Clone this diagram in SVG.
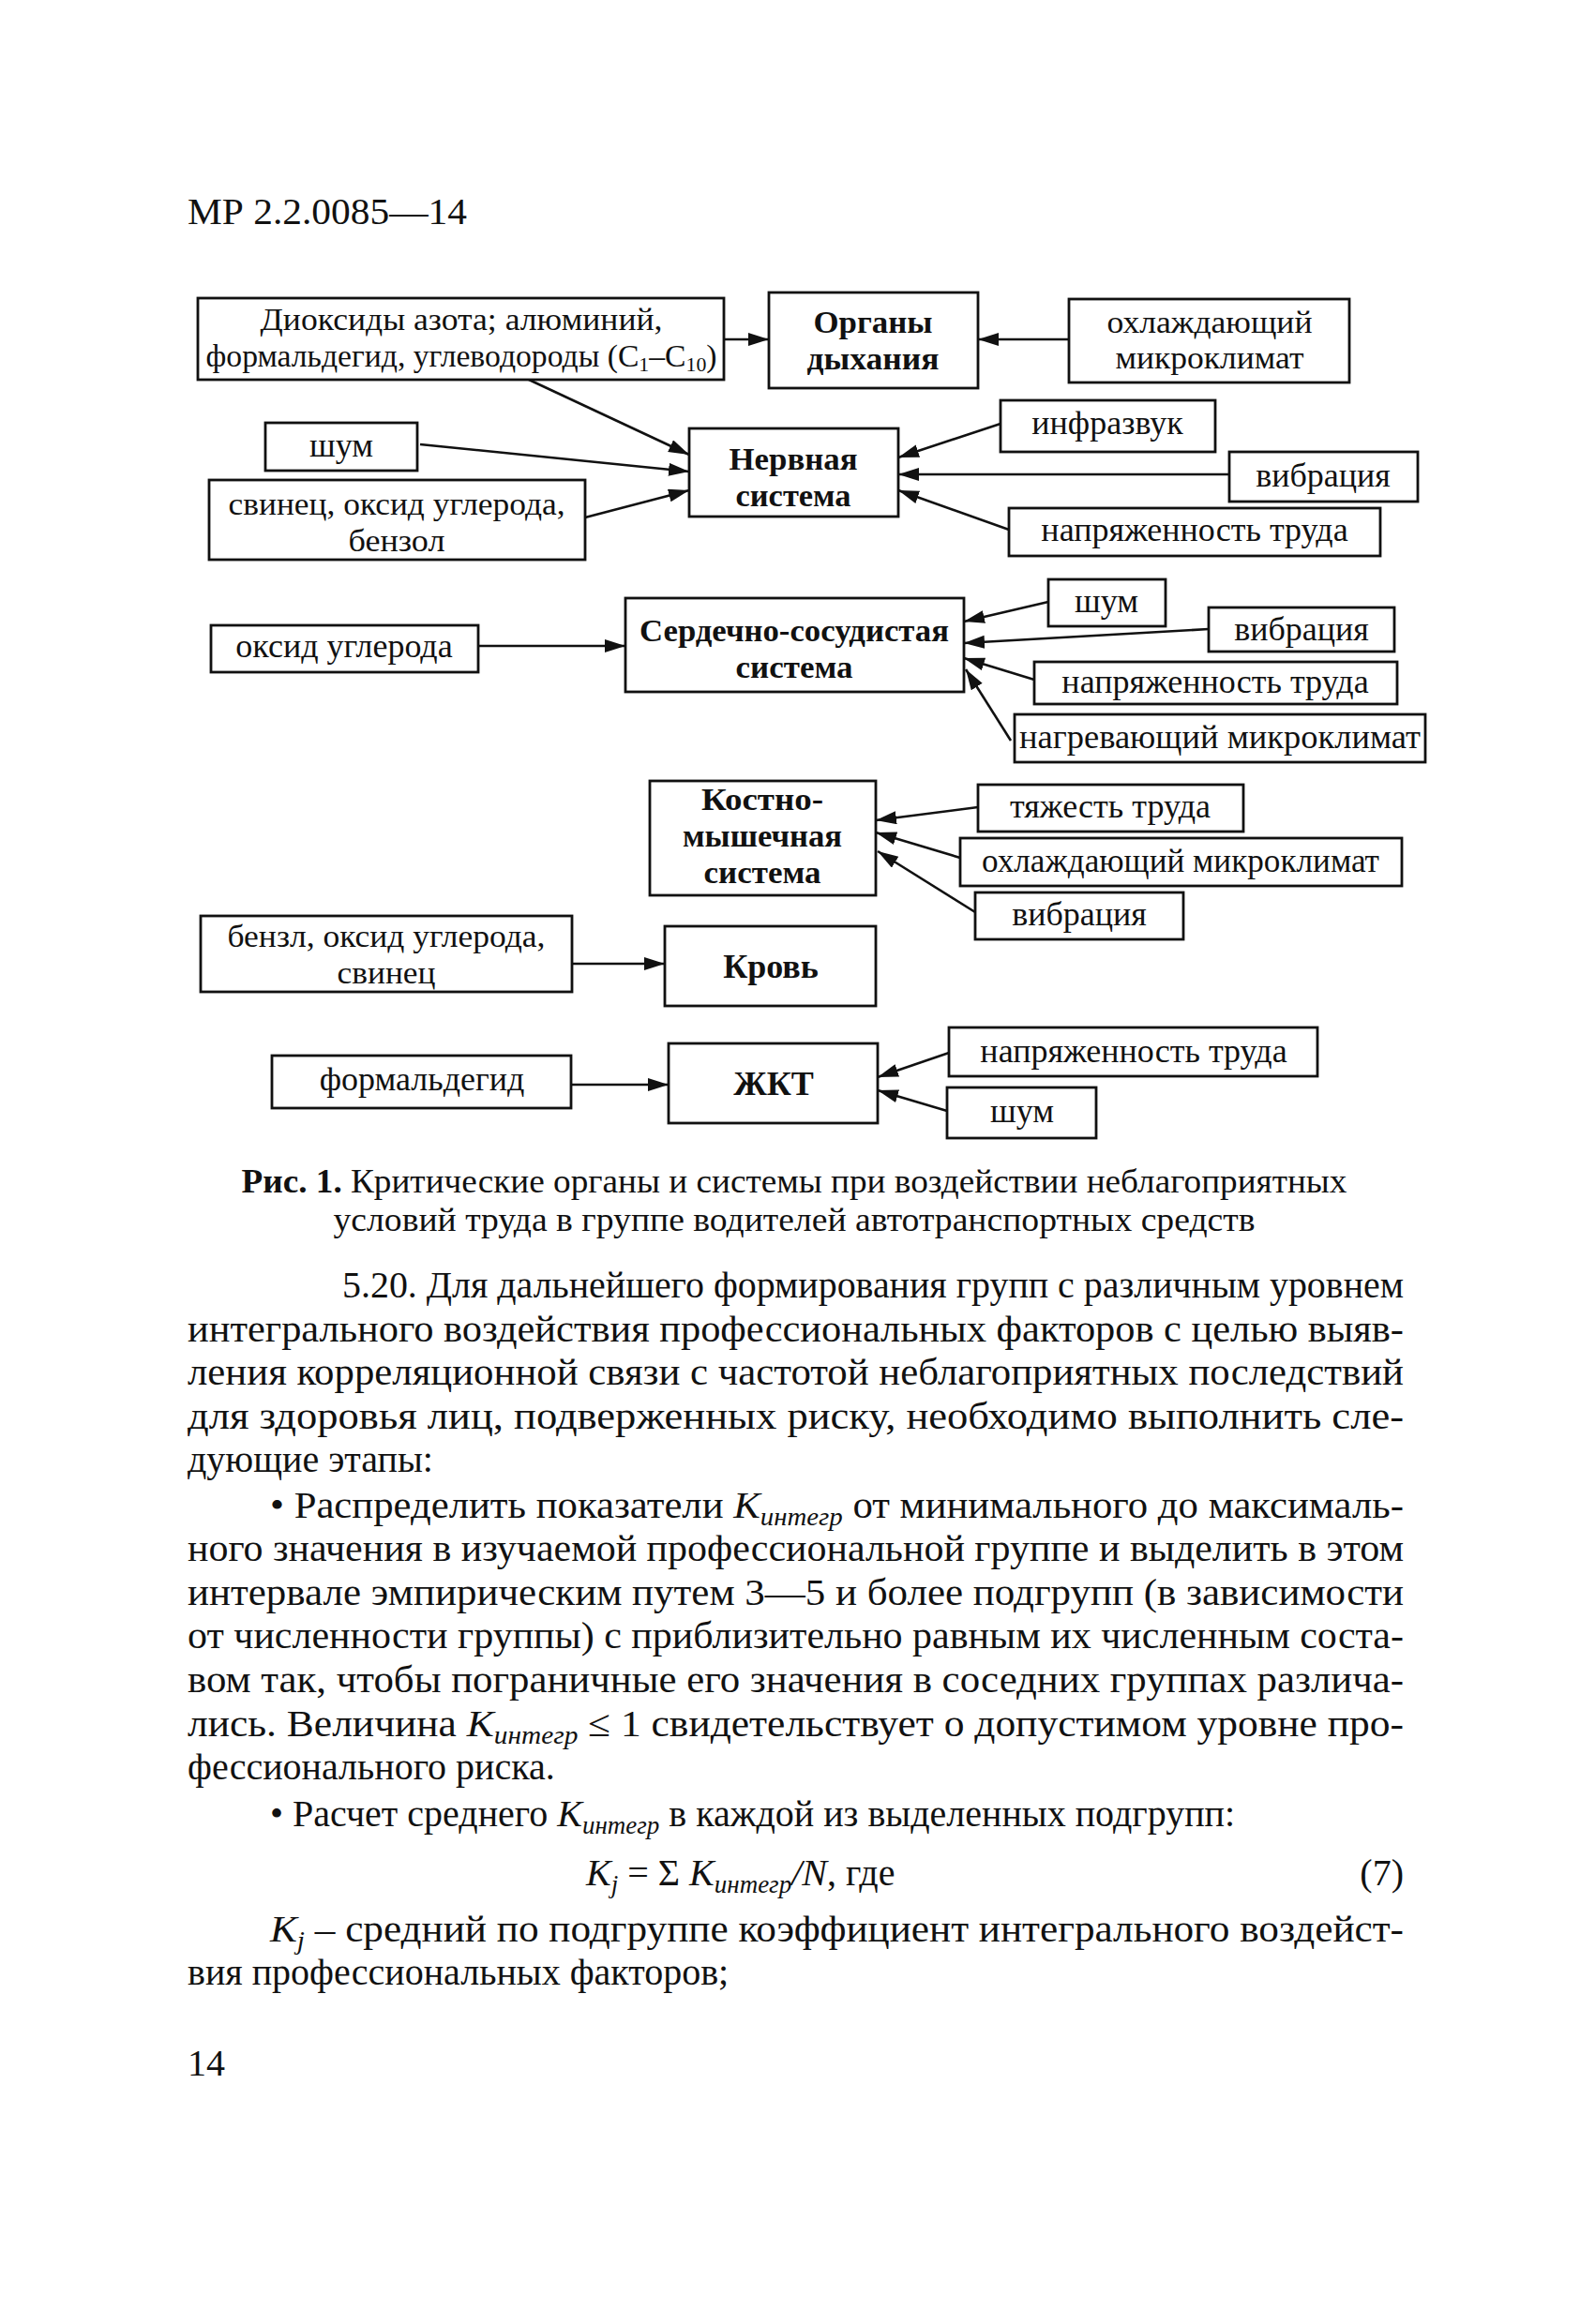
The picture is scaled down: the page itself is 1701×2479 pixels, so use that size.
<svg xmlns="http://www.w3.org/2000/svg" width="1701" height="2479" viewBox="0 0 1701 2479">
<style>
text{font-family:"Liberation Serif","Times New Roman",serif;fill:#111}
.box{fill:#fff;stroke:#111;stroke-width:2.8}
.lbl{font-size:36px;text-anchor:middle}
.ml{font-size:34px}
.b{font-weight:bold}
.edge{stroke:#111;stroke-width:2.6;fill:none;marker-end:url(#ah)}
.body{font-size:40px}
.cap{font-size:35px;text-anchor:middle}
.it{font-style:italic}
.sub{font-size:27px;font-style:italic}
</style>
<defs>
<marker id="ah" markerUnits="userSpaceOnUse" markerWidth="24" markerHeight="16" refX="22" refY="7" orient="auto">
<path d="M0,0 L22,7 L0,14 z" fill="#111"/>
</marker>
</defs>
<rect width="1701" height="2479" fill="#fff"/>
<text x="200" y="239" class="body" textLength="298" lengthAdjust="spacingAndGlyphs">МР 2.2.0085—14</text>

<g id="connectors">
<line class="edge" x1="772" y1="362" x2="820" y2="362"/>
<line class="edge" x1="1140" y1="362" x2="1043" y2="362"/>
<line class="edge" x1="564" y1="405" x2="735" y2="485"/>
<line class="edge" x1="448" y1="474" x2="735" y2="503"/>
<line class="edge" x1="624" y1="552" x2="735" y2="523"/>
<line class="edge" x1="1067" y1="452" x2="958" y2="488"/>
<line class="edge" x1="1311" y1="506" x2="958" y2="506"/>
<line class="edge" x1="1076" y1="565" x2="958" y2="523"/>
<line class="edge" x1="510" y1="689" x2="667" y2="689"/>
<line class="edge" x1="1118" y1="642" x2="1028" y2="663"/>
<line class="edge" x1="1289" y1="671" x2="1028" y2="686"/>
<line class="edge" x1="1103" y1="725" x2="1028" y2="702"/>
<line class="edge" x1="1078" y1="790" x2="1030" y2="714"/>
<line class="edge" x1="1043" y1="861" x2="934" y2="875"/>
<line class="edge" x1="1024" y1="915" x2="934" y2="888"/>
<line class="edge" x1="1040" y1="973" x2="936" y2="908"/>
<line class="edge" x1="610" y1="1028" x2="709" y2="1028"/>
<line class="edge" x1="609" y1="1157" x2="713" y2="1157"/>
<line class="edge" x1="1012" y1="1123" x2="936" y2="1149"/>
<line class="edge" x1="1010" y1="1185" x2="936" y2="1163"/>
</g>

<g id="n-dioxides"><rect class="box" x="211" y="318" width="561" height="87"/>
<text class="lbl ml" x="492" y="352" textLength="429" lengthAdjust="spacingAndGlyphs">Диоксиды азота; алюминий,</text>
<text class="lbl ml" x="492" y="391" textLength="545" lengthAdjust="spacingAndGlyphs">формальдегид, углеводороды (C<tspan font-size="22" dy="5">1</tspan><tspan dy="-5">–C</tspan><tspan font-size="22" dy="5">10</tspan><tspan dy="-5">)</tspan></text></g>
<g id="n-breath"><rect class="box" x="820" y="312" width="223" height="102"/>
<text class="lbl ml b" x="931" y="355" textLength="127" lengthAdjust="spacingAndGlyphs">Органы</text>
<text class="lbl ml b" x="931" y="394" textLength="141" lengthAdjust="spacingAndGlyphs">дыхания</text></g>
<g id="n-cool1"><rect class="box" x="1140" y="319" width="299" height="89"/>
<text class="lbl ml" x="1290" y="355" textLength="219" lengthAdjust="spacingAndGlyphs">охлаждающий</text>
<text class="lbl ml" x="1290" y="393" textLength="201" lengthAdjust="spacingAndGlyphs">микроклимат</text></g>
<g id="n-noise1"><rect class="box" x="283" y="451" width="162" height="51"/>
<text class="lbl" x="364" y="487">шум</text></g>
<g id="n-lead"><rect class="box" x="223" y="512" width="401" height="85"/>
<text class="lbl ml" x="423" y="549" textLength="359" lengthAdjust="spacingAndGlyphs">свинец, оксид углерода,</text>
<text class="lbl ml" x="423" y="588" textLength="103" lengthAdjust="spacingAndGlyphs">бензол</text></g>
<g id="n-nerv"><rect class="box" x="735" y="457" width="223" height="94"/>
<text class="lbl ml b" x="846" y="501" textLength="137" lengthAdjust="spacingAndGlyphs">Нервная</text>
<text class="lbl ml b" x="846" y="540" textLength="123" lengthAdjust="spacingAndGlyphs">система</text></g>
<g id="n-infra"><rect class="box" x="1067" y="427" width="229" height="55"/>
<text class="lbl" x="1181" y="463">инфразвук</text></g>
<g id="n-vib1"><rect class="box" x="1311" y="482" width="201" height="53"/>
<text class="lbl" x="1411" y="519">вибрация</text></g>
<g id="n-tens1"><rect class="box" x="1076" y="542" width="396" height="51"/>
<text class="lbl" x="1274" y="577">напряженность труда</text></g>

<g id="n-co"><rect class="box" x="225" y="667" width="285" height="50"/>
<text class="lbl" x="367" y="701">оксид углерода</text></g>
<g id="n-cardio"><rect class="box" x="667" y="638" width="361" height="100"/>
<text class="lbl ml b" x="847" y="684" textLength="330" lengthAdjust="spacingAndGlyphs">Сердечно-сосудистая</text>
<text class="lbl ml b" x="847" y="723" textLength="125" lengthAdjust="spacingAndGlyphs">система</text></g>
<g id="n-noise2"><rect class="box" x="1118" y="618" width="125" height="50"/>
<text class="lbl" x="1180" y="653">шум</text></g>
<g id="n-vib2"><rect class="box" x="1289" y="648" width="198" height="47"/>
<text class="lbl" x="1388" y="683">вибрация</text></g>
<g id="n-tens2"><rect class="box" x="1103" y="706" width="387" height="45"/>
<text class="lbl" x="1296" y="739">напряженность труда</text></g>
<g id="n-heat"><rect class="box" x="1082" y="762" width="438" height="51"/>
<text class="lbl" x="1301" y="798" textLength="428" lengthAdjust="spacingAndGlyphs">нагревающий микроклимат</text></g>

<g id="n-bone"><rect class="box" x="693" y="833" width="241" height="122"/>
<text class="lbl ml b" x="813" y="864" textLength="130" lengthAdjust="spacingAndGlyphs">Костно-</text>
<text class="lbl ml b" x="813" y="903" textLength="170" lengthAdjust="spacingAndGlyphs">мышечная</text>
<text class="lbl ml b" x="813" y="942" textLength="125" lengthAdjust="spacingAndGlyphs">система</text></g>
<g id="n-heavy"><rect class="box" x="1043" y="837" width="283" height="50"/>
<text class="lbl" x="1184" y="872">тяжесть труда</text></g>
<g id="n-cool2"><rect class="box" x="1024" y="894" width="471" height="51"/>
<text class="lbl" x="1259" y="930" textLength="424" lengthAdjust="spacingAndGlyphs">охлаждающий микроклимат</text></g>
<g id="n-vib3"><rect class="box" x="1040" y="952" width="222" height="50"/>
<text class="lbl" x="1151" y="987">вибрация</text></g>

<g id="n-benz"><rect class="box" x="214" y="977" width="396" height="81"/>
<text class="lbl ml" x="412" y="1010" textLength="339" lengthAdjust="spacingAndGlyphs">бензл, оксид углерода,</text>
<text class="lbl ml" x="412" y="1049" textLength="105" lengthAdjust="spacingAndGlyphs">свинец</text></g>
<g id="n-blood"><rect class="box" x="709" y="988" width="225" height="85"/>
<text class="lbl b" x="822" y="1043">Кровь</text></g>

<g id="n-formal"><rect class="box" x="290" y="1126" width="319" height="56"/>
<text class="lbl" x="450" y="1163">формальдегид</text></g>
<g id="n-gi"><rect class="box" x="713" y="1113" width="223" height="85"/>
<text class="lbl b" x="825" y="1168">ЖКТ</text></g>
<g id="n-tens3"><rect class="box" x="1012" y="1096" width="393" height="52"/>
<text class="lbl" x="1209" y="1133">напряженность труда</text></g>
<g id="n-noise3"><rect class="box" x="1010" y="1160" width="159" height="54"/>
<text class="lbl" x="1090" y="1197">шум</text></g>

<text class="cap" x="847" y="1272" textLength="1179" lengthAdjust="spacingAndGlyphs"><tspan class="b">Рис. 1.</tspan> Критические органы и системы при воздействии неблагоприятных</text>
<text class="cap" x="847" y="1313" textLength="983" lengthAdjust="spacingAndGlyphs">условий труда в группе водителей автотранспортных средств</text>

<g class="body">
<text x="365" y="1384" textLength="1132" lengthAdjust="spacingAndGlyphs">5.20. Для дальнейшего формирования групп с различным уровнем</text>
<text x="200" y="1431" textLength="1297" lengthAdjust="spacingAndGlyphs">интегрального воздействия профессиональных факторов с целью выяв-</text>
<text x="200" y="1477" textLength="1297" lengthAdjust="spacingAndGlyphs">ления корреляционной связи с частотой неблагоприятных последствий</text>
<text x="200" y="1524" textLength="1297" lengthAdjust="spacingAndGlyphs">для здоровья лиц, подверженных риску, необходимо выполнить сле-</text>
<text x="200" y="1570">дующие этапы:</text>
<text x="288" y="1619" textLength="1209" lengthAdjust="spacingAndGlyphs">• Распределить показатели <tspan class="it">K</tspan><tspan class="sub" dy="8">интегр</tspan><tspan dy="-8"> от минимального до максималь-</tspan></text>
<text x="200" y="1665" textLength="1297" lengthAdjust="spacingAndGlyphs">ного значения в изучаемой профессиональной группе и выделить в этом</text>
<text x="200" y="1712" textLength="1297" lengthAdjust="spacingAndGlyphs">интервале эмпирическим путем 3—5 и более подгрупп (в зависимости</text>
<text x="200" y="1758" textLength="1297" lengthAdjust="spacingAndGlyphs">от численности группы) с приблизительно равным их численным соста-</text>
<text x="200" y="1805" textLength="1297" lengthAdjust="spacingAndGlyphs">вом так, чтобы пограничные его значения в соседних группах различа-</text>
<text x="200" y="1852" textLength="1297" lengthAdjust="spacingAndGlyphs">лись. Величина <tspan class="it">K</tspan><tspan class="sub" dy="8">интегр</tspan><tspan dy="-8"> ≤ 1 свидетельствует о допустимом уровне про-</tspan></text>
<text x="200" y="1898">фессионального риска.</text>
<text x="288" y="1948">• Расчет среднего <tspan class="it">K</tspan><tspan class="sub" dy="8">интегр</tspan><tspan dy="-8"> в каждой из выделенных подгрупп:</tspan></text>
<text x="625" y="2011"><tspan class="it">K</tspan><tspan class="sub" dy="8">j</tspan><tspan dy="-8"> = Σ </tspan><tspan class="it">K</tspan><tspan class="sub" dy="8">интегр</tspan><tspan dy="-8" class="it">/N</tspan><tspan>, где</tspan></text>
<text x="1497" y="2011" text-anchor="end">(7)</text>
<text x="288" y="2071" textLength="1209" lengthAdjust="spacingAndGlyphs"><tspan class="it">K</tspan><tspan class="sub" dy="8">j</tspan><tspan dy="-8"> – средний по подгруппе коэффициент интегрального воздейст-</tspan></text>
<text x="200" y="2117">вия профессиональных факторов;</text>
<text x="200" y="2214">14</text>
</g>
</svg>
